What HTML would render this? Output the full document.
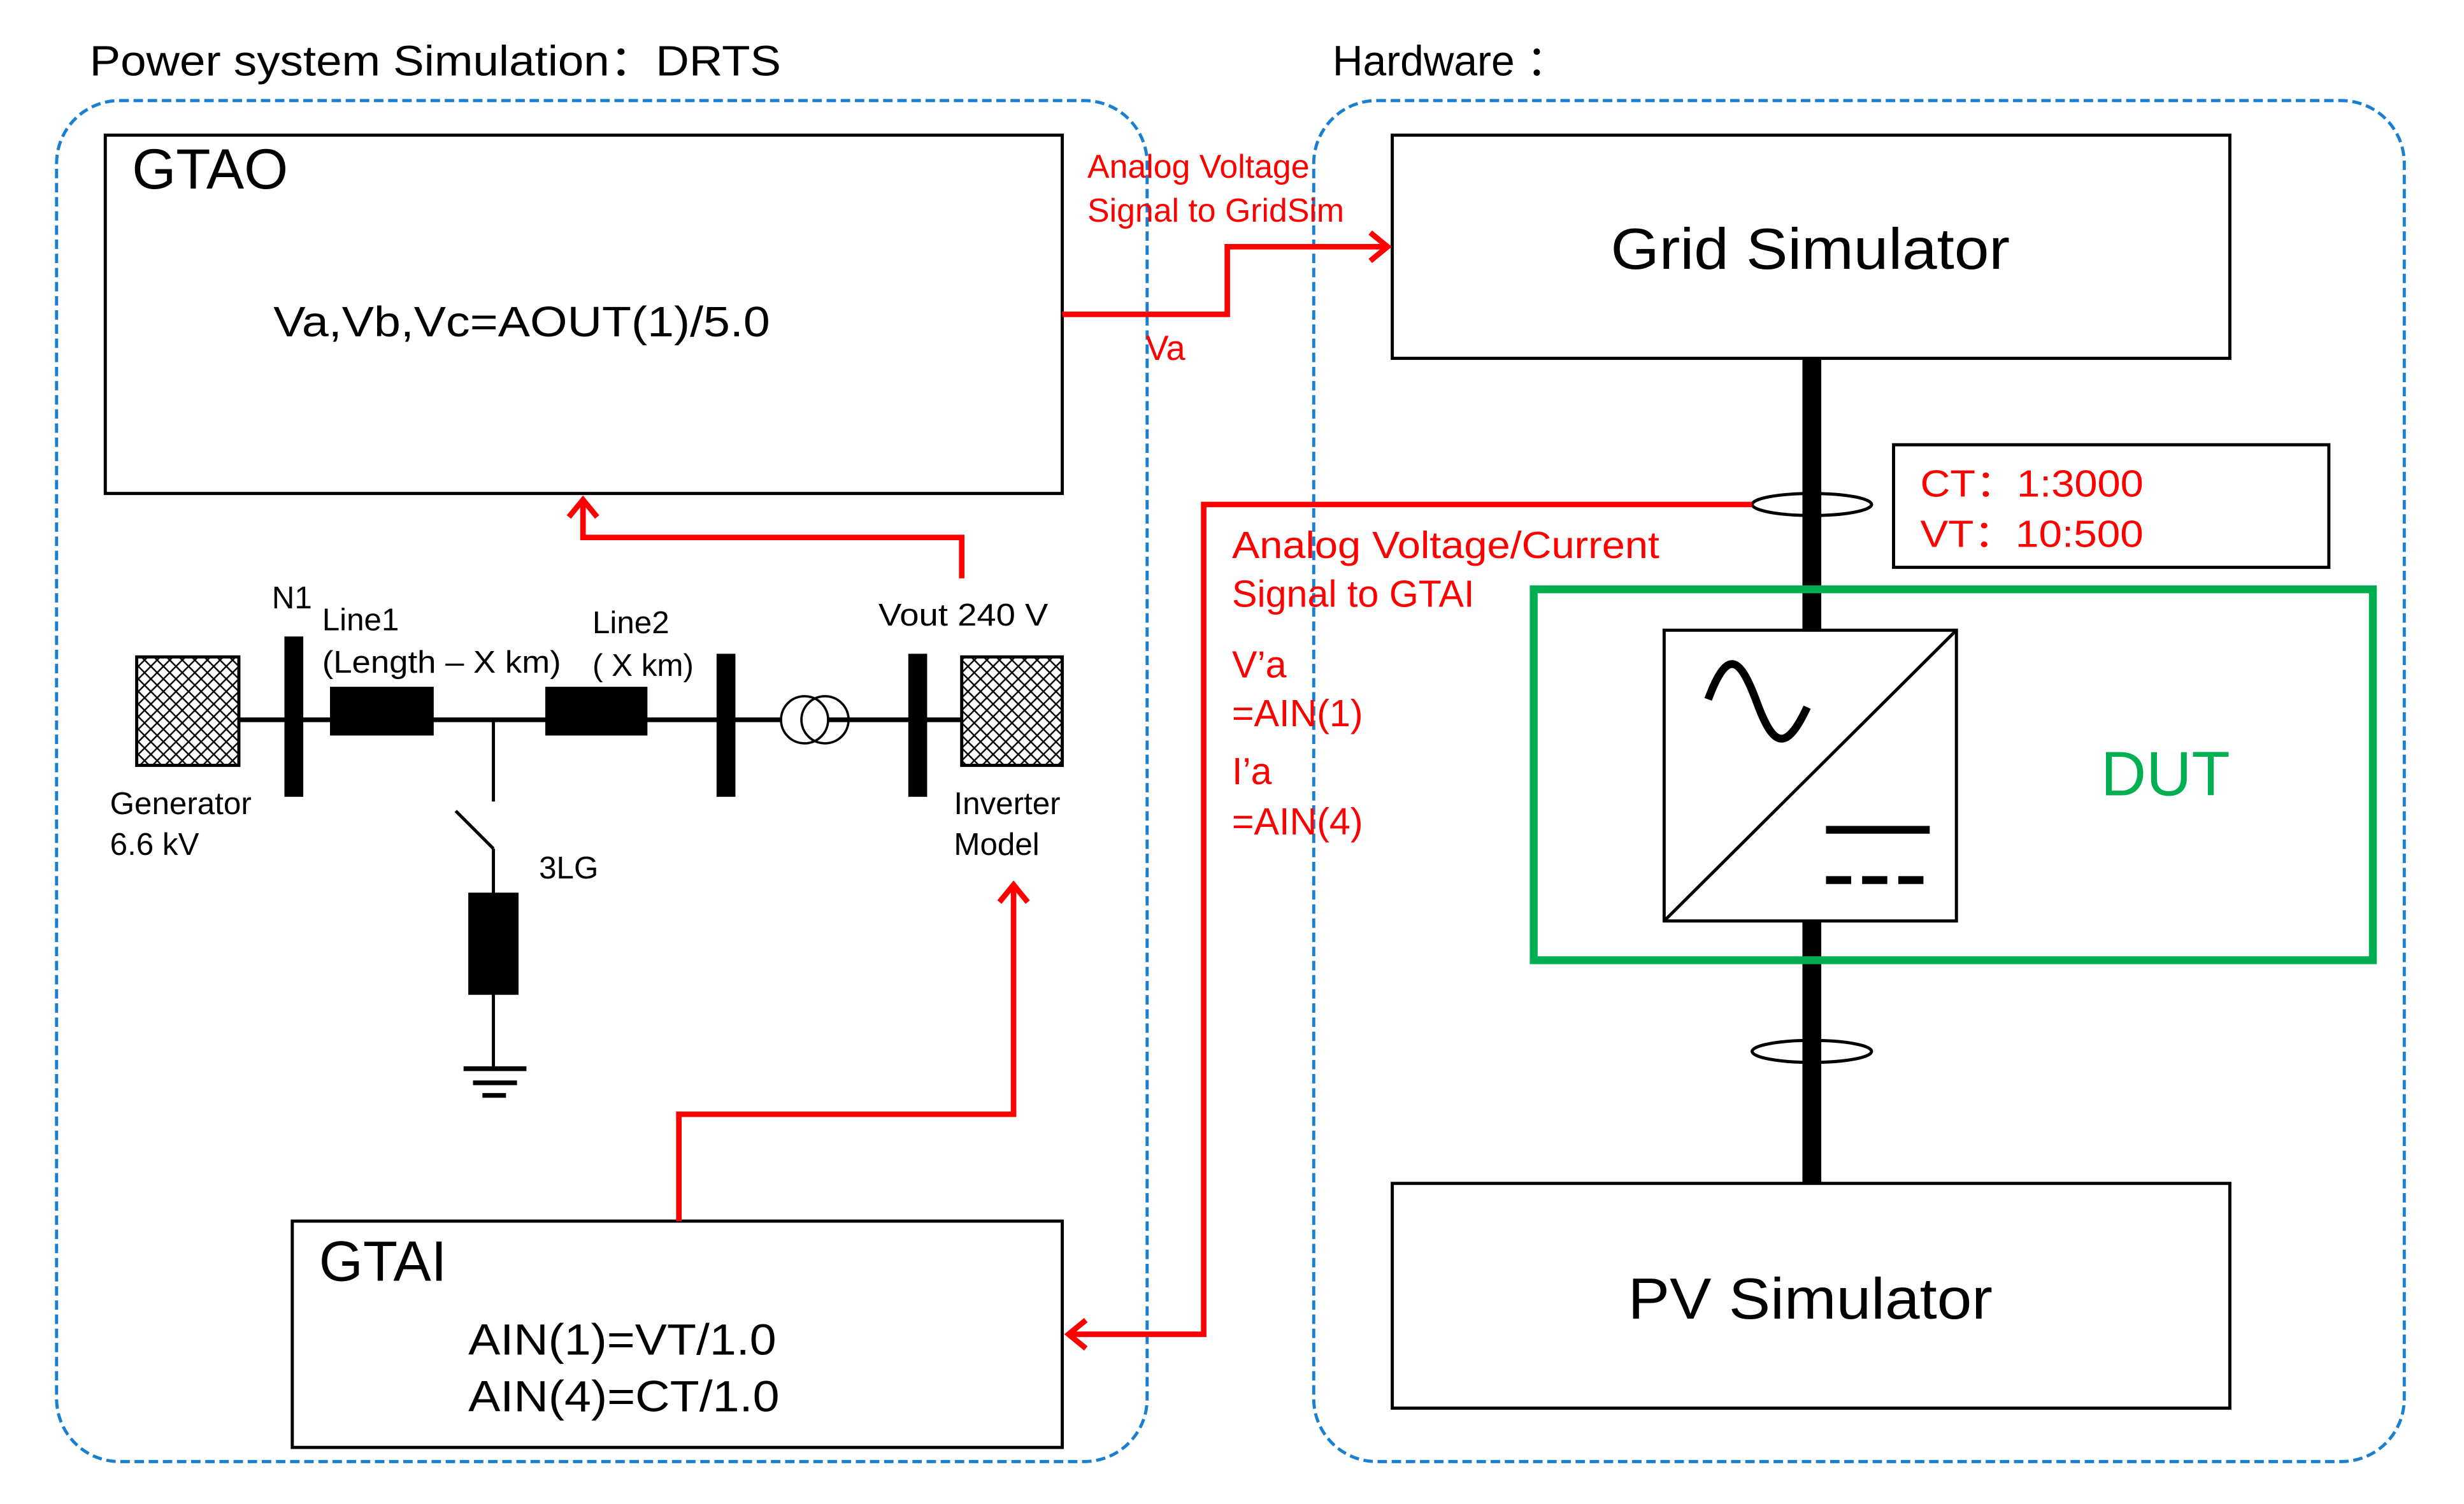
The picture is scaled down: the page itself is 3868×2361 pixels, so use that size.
<!DOCTYPE html>
<html><head><meta charset="utf-8"><style>html,body{margin:0;padding:0;background:#fff}svg{display:block}</style></head>
<body>
<svg width="3868" height="2361" viewBox="0 0 1568 957" preserveAspectRatio="none" xmlns="http://www.w3.org/2000/svg" font-family="Liberation Sans, Arial, sans-serif">
<defs>
<pattern id="h" width="8" height="8" patternUnits="userSpaceOnUse">
<path d="M0 0L8 8M8 0L0 8" stroke="#000" stroke-width="1"/>
</pattern>
</defs>
<rect width="1568" height="957" fill="#fff"/>
<text x="57" y="48" font-size="27" textLength="440" lengthAdjust="spacingAndGlyphs">Power system Simulation：DRTS</text>
<text x="848" y="48" font-size="27" textLength="150" lengthAdjust="spacingAndGlyphs">Hardware ：</text>
<rect x="36" y="64" width="694" height="866" rx="40" fill="none" stroke="#1a7fd0" stroke-width="2" stroke-dasharray="6,3"/>
<rect x="836" y="64" width="694" height="866" rx="40" fill="none" stroke="#1a7fd0" stroke-width="2" stroke-dasharray="6,3"/>
<g fill="none" stroke="#000" stroke-width="2">
<rect x="67" y="86" width="609" height="228"/>
<rect x="886" y="86" width="533" height="142"/>
<rect x="886" y="753" width="533" height="143"/>
<rect x="186" y="777" width="490" height="144"/>
<rect x="1205" y="283" width="277" height="78"/>
</g>
<text x="84" y="120" font-size="36">GTAO</text>
<text x="174" y="214" font-size="27" textLength="316" lengthAdjust="spacingAndGlyphs">Va,Vb,Vc=AOUT(1)/5.0</text>
<text x="1152" y="171" font-size="37" text-anchor="middle" textLength="254" lengthAdjust="spacingAndGlyphs">Grid Simulator</text>
<text x="1152" y="839" font-size="37" text-anchor="middle" textLength="232" lengthAdjust="spacingAndGlyphs">PV Simulator</text>
<text x="203" y="815" font-size="36">GTAI</text>
<text x="298" y="862" font-size="28" textLength="196" lengthAdjust="spacingAndGlyphs">AIN(1)=VT/1.0</text>
<text x="298" y="898" font-size="28" textLength="198" lengthAdjust="spacingAndGlyphs">AIN(4)=CT/1.0</text>
<g fill="#ff0000" font-size="24">
<text x="1222" y="316" textLength="142" lengthAdjust="spacingAndGlyphs">CT：1:3000</text>
<text x="1222" y="348" textLength="142" lengthAdjust="spacingAndGlyphs">VT：10:500</text>
</g>
<line x1="1153" y1="228" x2="1153" y2="753" stroke="#000" stroke-width="12"/>
<rect x="976" y="375" width="534" height="236" fill="none" stroke="#00b050" stroke-width="5"/>
<text x="1378" y="506" font-size="40" fill="#00b050" text-anchor="middle">DUT</text>
<rect x="1059" y="401" width="186" height="185" fill="#fff" stroke="#000" stroke-width="2"/>
<line x1="1245" y1="401" x2="1059" y2="586" stroke="#000" stroke-width="2"/>
<path d="M1087 445 C1100 410,1108 420,1118 447 C1128 474,1136 480,1150 450" fill="none" stroke="#000" stroke-width="5"/>
<line x1="1162" y1="528" x2="1228" y2="528" stroke="#000" stroke-width="5"/>
<line x1="1162" y1="560" x2="1228" y2="560" stroke="#000" stroke-width="5" stroke-dasharray="16,7"/>
<ellipse cx="1153" cy="321" rx="38" ry="7" fill="none" stroke="#000" stroke-width="2"/>
<ellipse cx="1153" cy="669" rx="38" ry="7" fill="none" stroke="#000" stroke-width="2"/>
<g fill="none" stroke="#ff0000" stroke-width="3.5">
<polyline points="676,200 781,200 781,157 883,157"/>
<polyline points="872,148 883,157 872,166"/>
<polyline points="1115,321 766,321 766,849 680,849"/>
<polyline points="691,840 680,849 691,858"/>
<polyline points="612,368 612,342 371,342 371,318"/>
<polyline points="362,329 371,318 380,329"/>
<polyline points="432,777 432,709 645,709 645,563"/>
<polyline points="636,574 645,563 654,574"/>
</g>
<g fill="#ff0000" font-size="21">
<text x="692" y="113">Analog Voltage</text>
<text x="692" y="141">Signal to GridSim</text>
<text x="729" y="229" font-size="22">Va</text>
</g>
<g fill="#ff0000" font-size="24">
<text x="784" y="355" textLength="272" lengthAdjust="spacingAndGlyphs">Analog Voltage/Current</text>
<text x="784" y="386">Signal to GTAI</text>
<text x="784" y="431">V’a</text>
<text x="784" y="462">=AIN(1)</text>
<text x="784" y="499">I’a</text>
<text x="784" y="531">=AIN(4)</text>
</g>
<line x1="152" y1="458" x2="612" y2="458" stroke="#000" stroke-width="3"/>
<rect x="87" y="418" width="65" height="69" fill="url(#h)" stroke="#000" stroke-width="2"/>
<rect x="612" y="418" width="64" height="69" fill="url(#h)" stroke="#000" stroke-width="2"/>
<rect x="181" y="405" width="12" height="102" fill="#000"/>
<rect x="456" y="416" width="12" height="91" fill="#000"/>
<rect x="578" y="416" width="12" height="91" fill="#000"/>
<rect x="210" y="437" width="66" height="31" fill="#000"/>
<rect x="347" y="437" width="65" height="31" fill="#000"/>
<circle cx="512" cy="458" r="15" fill="#fff" stroke="#000" stroke-width="1.5"/>
<circle cx="525" cy="458" r="15" fill="none" stroke="#000" stroke-width="1.5"/>
<g stroke="#000" stroke-width="2">
<line x1="314" y1="458" x2="314" y2="510"/>
<line x1="290" y1="516" x2="314" y2="540"/>
<line x1="314" y1="540" x2="314" y2="680"/>
<line x1="295" y1="680" x2="335" y2="680" stroke-width="3"/>
<line x1="301" y1="689" x2="329" y2="689" stroke-width="3"/>
<line x1="307" y1="697" x2="322" y2="697" stroke-width="3"/>
</g>
<rect x="298" y="568" width="32" height="65" fill="#000"/>
<g font-size="20">
<text x="173" y="387">N1</text>
<text x="205" y="401">Line1</text>
<text x="205" y="428" textLength="152" lengthAdjust="spacingAndGlyphs">(Length – X km)</text>
<text x="377" y="403">Line2</text>
<text x="377" y="430">( X km)</text>
<text x="559" y="398" textLength="108" lengthAdjust="spacingAndGlyphs">Vout 240 V</text>
<text x="70" y="518">Generator</text>
<text x="70" y="544">6.6 kV</text>
<text x="343" y="559">3LG</text>
<text x="607" y="518">Inverter</text>
<text x="607" y="544">Model</text>
</g>
</svg>
</body></html>
